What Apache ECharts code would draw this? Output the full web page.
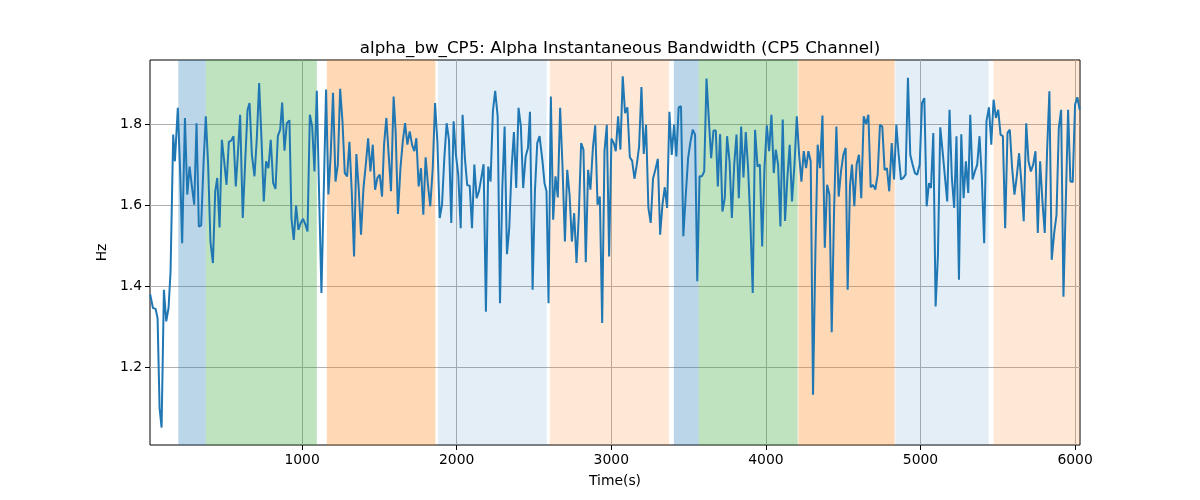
<!DOCTYPE html>
<html>
<head>
<meta charset="utf-8">
<script src="https://cdn.jsdelivr.net/npm/echarts@6/dist/echarts.min.js"></script>
<style>html,body{margin:0;padding:0;background:#fff}#c{width:1200px;height:500px}</style>
</head>
<body>
<div id="c"></div>
<script>
const titleText = "alpha_bw_CP5: Alpha Instantaneous Bandwidth (CP5 Channel)";
const xTicks = [1000, 2000, 3000, 4000, 5000, 6000];
const yTicks = [1.2, 1.4, 1.6, 1.8];
const times = [17,35,52,65,78,91,106,121,136,149,166,177,196,211,224,242,257,272,287,302,317,332,347,362,377,392,407,423,438,451,466,481,496,511,526,541,556,571,585,599,616,631,647,660,675,692,707,722,737,752,767,782,797,813,828,843,858,871,886,901,918,931,946,961,976,991,1006,1022,1035,1050,1065,1080,1095,1110,1125,1155,1170,1185,1200,1216,1231,1246,1261,1276,1291,1306,1321,1336,1351,1366,1381,1397,1412,1427,1442,1457,1472,1487,1502,1517,1530,1545,1560,1575,1592,1605,1620,1636,1651,1666,1681,1696,1711,1726,1739,1754,1769,1784,1799,1814,1829,1845,1860,1875,1890,1905,1920,1935,1950,1965,1980,1995,2010,2026,2038,2053,2068,2084,2099,2114,2129,2144,2159,2174,2189,2204,2219,2234,2249,2265,2280,2295,2310,2325,2340,2355,2370,2385,2400,2415,2430,2446,2461,2474,2491,2506,2521,2536,2555,2568,2581,2594,2609,2624,2639,2654,2669,2684,2700,2715,2730,2745,2760,2775,2790,2805,2820,2835,2850,2865,2881,2896,2911,2926,2941,2956,2971,2986,3001,3016,3029,3044,3059,3074,3089,3104,3120,3135,3150,3165,3180,3195,3210,3225,3240,3255,3270,3285,3301,3316,3331,3346,3361,3376,3391,3406,3421,3436,3451,3466,3482,3497,3512,3527,3542,3556,3571,3586,3601,3616,3631,3646,3661,3676,3689,3704,3719,3734,3749,3765,3780,3795,3810,3825,3840,3855,3870,3885,3900,3915,3930,3946,3961,3976,3991,4006,4021,4036,4051,4064,4079,4094,4109,4124,4139,4154,4169,4185,4200,4215,4230,4245,4260,4275,4290,4305,4320,4335,4350,4366,4381,4396,4411,4426,4441,4456,4471,4486,4501,4516,4529,4544,4557,4572,4587,4602,4617,4633,4648,4663,4678,4693,4708,4723,4738,4753,4768,4783,4798,4814,4829,4844,4859,4874,4889,4904,4919,4934,4949,4964,4979,4995,5010,5025,5040,5055,5068,5083,5098,5113,5128,5143,5158,5173,5188,5203,5218,5233,5249,5264,5279,5294,5309,5322,5337,5352,5367,5382,5397,5412,5427,5443,5458,5473,5488,5503,5518,5533,5548,5563,5578,5593,5608,5623,5638,5653,5668,5684,5699,5714,5729,5744,5759,5774,5789,5804,5819,5834,5849,5865,5880,5895,5910,5925,5940,5955,5970,5985,6000,6015,6030];
const values = [1.38,1.346,1.344,1.321,1.099,1.051,1.391,1.313,1.346,1.436,1.774,1.708,1.840,1.683,1.506,1.815,1.626,1.695,1.646,1.601,1.802,1.547,1.550,1.700,1.819,1.700,1.510,1.457,1.634,1.667,1.545,1.761,1.708,1.650,1.756,1.759,1.770,1.646,1.73,1.823,1.568,1.700,1.835,1.852,1.724,1.671,1.765,1.901,1.765,1.609,1.708,1.691,1.761,1.654,1.640,1.770,1.786,1.853,1.734,1.802,1.809,1.568,1.514,1.599,1.539,1.556,1.566,1.551,1.535,1.823,1.794,1.683,1.882,1.626,1.383,1.885,1.626,1.724,1.877,1.658,1.700,1.887,1.807,1.679,1.671,1.756,1.634,1.473,1.726,1.642,1.527,1.642,1.700,1.765,1.683,1.749,1.638,1.667,1.675,1.621,1.749,1.815,1.724,1.634,1.868,1.782,1.578,1.691,1.756,1.802,1.749,1.782,1.749,1.733,1.765,1.646,1.691,1.576,1.718,1.650,1.597,1.691,1.852,1.757,1.568,1.601,1.716,1.802,1.761,1.556,1.807,1.724,1.675,1.543,1.823,1.716,1.649,1.648,1.543,1.700,1.617,1.634,1.667,1.701,1.337,1.695,1.658,1.831,1.882,1.819,1.358,1.642,1.794,1.479,1.543,1.691,1.780,1.642,1.840,1.794,1.642,1.720,1.741,1.830,1.391,1.634,1.753,1.770,1.708,1.654,1.634,1.358,1.868,1.564,1.671,1.619,1.840,1.700,1.510,1.687,1.626,1.510,1.580,1.457,1.576,1.753,1.737,1.459,1.687,1.638,1.741,1.797,1.601,1.621,1.309,1.733,1.798,1.473,1.764,1.753,1.733,1.819,1.737,1.918,1.827,1.841,1.718,1.709,1.665,1.700,1.745,1.891,1.726,1.798,1.593,1.556,1.665,1.687,1.714,1.527,1.601,1.644,1.593,1.830,1.724,1.798,1.720,1.841,1.844,1.523,1.626,1.716,1.756,1.786,1.774,1.412,1.671,1.671,1.683,1.912,1.811,1.716,1.784,1.784,1.646,1.775,1.584,1.617,1.770,1.708,1.568,1.700,1.774,1.617,1.794,1.668,1.780,1.691,1.556,1.383,1.786,1.695,1.700,1.498,1.691,1.797,1.733,1.823,1.679,1.737,1.700,1.547,1.811,1.561,1.667,1.749,1.609,1.700,1.819,1.724,1.658,1.733,1.691,1.733,1.708,1.132,1.477,1.749,1.691,1.821,1.495,1.650,1.626,1.286,1.584,1.794,1.621,1.683,1.724,1.741,1.391,1.646,1.700,1.597,1.700,1.724,1.617,1.819,1.800,1.823,1.644,1.650,1.638,1.675,1.798,1.794,1.687,1.691,1.634,1.753,1.663,1.798,1.724,1.663,1.667,1.675,1.914,1.724,1.700,1.679,1.675,1.700,1.852,1.864,1.597,1.654,1.642,1.778,1.350,1.477,1.792,1.733,1.671,1.609,1.835,1.667,1.593,1.770,1.416,1.775,1.617,1.708,1.630,1.823,1.663,1.683,1.700,1.770,1.667,1.506,1.807,1.841,1.749,1.860,1.815,1.835,1.774,1.770,1.543,1.778,1.786,1.691,1.626,1.671,1.728,1.654,1.560,1.802,1.708,1.683,1.700,1.733,1.531,1.708,1.609,1.531,1.733,1.881,1.465,1.531,1.576,1.790,1.835,1.374,1.605,1.835,1.658,1.657,1.848,1.866,1.835];
const regionStarts = [199, 377, 1160, 1879, 2603, 3405, 3566, 4210, 4837, 5473];
const regionEnds   = [377, 1095, 1862, 2582, 3374, 3566, 4206, 4833, 5441, 6030];
const regionKinds  = ['blue','green','orange','lightblue','lightorange','blue','green','orange','lightblue','lightorange'];

const kindColors = {
  blue: 'rgba(31,119,180,0.3)',
  green: 'rgba(44,160,44,0.3)',
  orange: 'rgba(255,127,14,0.3)',
  lightblue: 'rgba(31,119,180,0.12)',
  lightorange: 'rgba(255,127,14,0.17)'
};

const chart = echarts.init(document.getElementById('c'), null, {renderer: 'canvas'});
const font = 'DejaVu Sans';
const seriesData = times.map((t, i) => [t, values[i]]);
const areas = regionStarts.map((s, i) => [
  {xAxis: s, itemStyle: {color: kindColors[regionKinds[i]]}},
  {xAxis: regionEnds[i]}
]);

chart.setOption({
  animation: false,
  backgroundColor: '#fff',
  title: {
    text: titleText, left: 615, top: 35, textAlign: 'center',
    textStyle: {fontFamily: font, fontSize: 16.7, fontWeight: 'normal', color: '#000'}
  },
  grid: {left: 150, right: 120, top: 60, bottom: 55, show: true, borderColor: '#000', borderWidth: 1, backgroundColor: 'transparent'},
  xAxis: {
    type: 'value', min: 16, max: 6032,
    name: 'Time(s)', nameLocation: 'middle', nameGap: 29,
    nameTextStyle: {fontFamily: font, fontSize: 13.9, color: '#000'},
    axisLine: {show: false},
    axisTick: {show: true, inside: false, length: 5, customValues: xTicks, lineStyle: {color: '#000'}},
    axisLabel: {customValues: xTicks, margin: 8, fontFamily: font, fontSize: 13.9, color: '#000',
      formatter: v => String(Math.round(v))},
    splitLine: {show: true, lineStyle: {color: '#b0b0b0', width: 1}}
  },
  yAxis: {
    type: 'value', min: 1.008, max: 1.958,
    name: 'Hz', nameLocation: 'middle', nameGap: 35, nameRotate: 90,
    nameTextStyle: {fontFamily: font, fontSize: 13.9, color: '#000'},
    axisLine: {show: false},
    axisTick: {show: true, inside: false, length: 5, customValues: yTicks, lineStyle: {color: '#000'}},
    axisLabel: {customValues: yTicks, margin: 8, fontFamily: font, fontSize: 13.9, color: '#000',
      formatter: v => v.toFixed(1)},
    splitLine: {show: true, lineStyle: {color: '#b0b0b0', width: 1}}
  },
  series: [{
    type: 'line', data: seriesData, symbol: 'none',
    lineStyle: {color: '#1f77b4', width: 2},
    markArea: {silent: true, data: areas}
  }]
});
</script>
</body>
</html>
